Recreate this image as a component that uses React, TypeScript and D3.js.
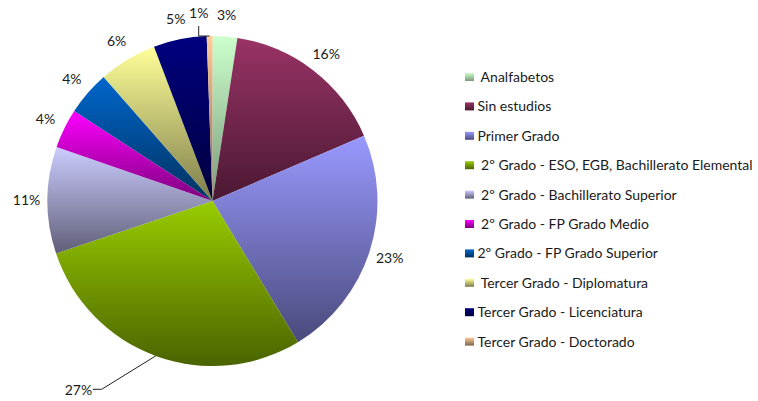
import React from "react";
import * as d3 from "d3";

const categories = [
  " Analfabetos",
  "Sin estudios",
  "Primer Grado",
  " 2º Grado - ESO, EGB, Bachillerato Elemental",
  " 2º Grado - Bachillerato Superior",
  " 2º Grado - FP Grado Medio",
  "2º Grado - FP Grado Superior",
  " Tercer Grado - Diplomatura",
  "Tercer Grado - Licenciatura",
  "Tercer Grado - Doctorado",
];
const values = [2.41, 16.1, 22.8, 28.5, 10.45, 3.87, 4.35, 5.7, 5.2, 0.56];
const percentLabels = ["3%", "16%", "23%", "27%", "11%", "4%", "4%", "6%", "5%", "1%"];
const topColors = ["#CCFFCC", "#993366", "#9999FF", "#99CC00", "#CCCCFF", "#FF00FF", "#0066CC", "#FFFF99", "#000080", "#FFCC99"];
const bottomColors = ["#7A997A", "#4A1832", "#4A4A7C", "#4A6300", "#5F5F78", "#7C007C", "#00325F", "#7C7C4A", "#00003C", "#7C634A"];

const W = 758;
const H = 401;
const cx = 212.5;
const cy = 201;
const R = 165;
const labelR = 186;
const FONT = "Lato, 'Open Sans', sans-serif";
const FS = 14;

export default function App() {
  const pie = d3.pie<number>().sort(null).value((d) => d).startAngle(0).endAngle(2 * Math.PI);
  const arcs = pie(values);
  const arcGen = d3.arc<d3.PieArcDatum<number>>().innerRadius(0).outerRadius(R);
  const pt = (a: number, r: number): [number, number] => [cx + r * Math.sin(a), cy - r * Math.cos(a)];

  const legendX = 465;
  const legendY = d3.scaleLinear().domain([0, categories.length - 1]).range([77, 341.6]);

  return (
    <svg width={W} height={H} style={{ position: "absolute", left: 0, top: 0, background: "#fff" }} fontFamily={FONT}>
      <defs>
        {categories.map((c, i) => (
          <linearGradient key={i} id={`g${i}`} x1="0" y1="0" x2="0" y2="1">
            <stop offset="0" stopColor={topColors[i]} />
            <stop offset="1" stopColor={bottomColors[i]} />
          </linearGradient>
        ))}
      </defs>
      <g transform={`translate(${cx},${cy})`}>
        {arcs.map((a, i) => (
          <path key={i} d={arcGen(a) || ""} fill={`url(#g${i})`} />
        ))}
      </g>
      {arcs.map((a, i) => {
        const mid = (a.startAngle + a.endAngle) / 2;
        if (i === 3) {
          const [ex, ey] = pt(mid, R);
          const bx = 101.7, by = 389.3;
          return (
            <g key={i}>
              <polyline points={`${ex},${ey} ${bx},${by} ${bx - 9},${by}`} fill="none" stroke="#222" strokeWidth={1} />
              <text x={bx - 9.5} y={by + 1} dy="0.35em" textAnchor="end" fontSize={FS} fill="#1a1a1a">{percentLabels[i]}</text>
            </g>
          );
        }
        if (i === 9) {
          const [ex, ey] = pt(mid, R);
          const bx = 198.7;
          return (
            <g key={i}>
              <polyline points={`${ex},${ey} ${bx},${ey} ${bx},${ey - 10}`} fill="none" stroke="#222" strokeWidth={1} />
              <text x={bx} y={ey - 23} dy="0.35em" textAnchor="middle" fontSize={FS} fill="#1a1a1a">{percentLabels[i]}</text>
            </g>
          );
        }
        const [lx, ly] = pt(mid, labelR);
        return (
          <text key={i} x={lx} y={ly} dy="0.35em" textAnchor="middle" fontSize={FS} fill="#1a1a1a">{percentLabels[i]}</text>
        );
      })}
      {categories.map((c, i) => (
        <g key={i} transform={`translate(${legendX},${legendY(i)})`}>
          <rect x={0} y={-4} width={9} height={8} fill={`url(#g${i})`} />
          <text x={12.5} y={0} dy="0.35em" fontSize={FS} fill="#1a1a1a" style={{ whiteSpace: "pre" }}>{c}</text>
        </g>
      ))}
    </svg>
  );
}
